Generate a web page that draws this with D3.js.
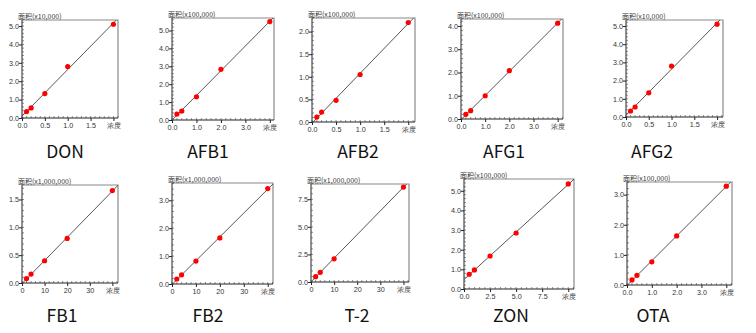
<!DOCTYPE html>
<html><head><meta charset="utf-8">
<script src="https://cdn.jsdelivr.net/npm/d3@7"></script>
<style>
body{margin:0;background:#fff;}
svg{display:block;}
</style></head>
<body>
<svg id="c" width="756" height="333"></svg>
<script>
// ---- data ----
const names = ["DON","AFB1","AFB2","AFG1","AFG2","FB1","FB2","T-2","ZON","OTA"];
const yTitles = ["面积(x10,000)","面积(x100,000)","面积(x100,000)","面积(x100,000)","面积(x10,000)",
                 "面积(x1,000,000)","面积(x1,000,000)","面积(x1,000,000)","面积(x100,000)","面积(x100,000)"];
const xLastLabel = "浓度";
const concDON  = [0.1,0.2,0.5,1.0,2.0];
const areaDON  = [0.35,0.55,1.33,2.8,5.1];
const concAFB1 = [0.2,0.4,1.0,2.0,4.0];
const areaAFB1 = [0.33,0.5,1.3,2.83,5.5];
const concAFB2 = [0.1,0.2,0.5,1.0,2.0];
const areaAFB2 = [0.11,0.22,0.48,1.05,2.2];
const concAFG1 = [0.2,0.4,1.0,2.0,4.0];
const areaAFG1 = [0.2,0.36,1.0,2.08,4.12];
const concAFG2 = [0.1,0.2,0.5,1.0,2.0];
const areaAFG2 = [0.33,0.55,1.33,2.8,5.1];
const concFB1  = [2,4,10,20,40];
const areaFB1  = [0.08,0.16,0.4,0.8,1.66];
const concFB2  = [2,4,10,20,40];
const areaFB2  = [0.18,0.33,0.82,1.65,3.42];
const concT2   = [2,4,10,40];
const areaT2   = [0.48,0.88,2.1,8.6];
const concZON  = [0.5,1.0,2.5,5.0,10.0];
const areaZON  = [0.75,0.97,1.68,2.85,5.35];
const concOTA  = [0.2,0.4,1.0,2.0,4.0];
const areaOTA  = [0.17,0.32,0.77,1.63,3.28];
const concs = [concDON,concAFB1,concAFB2,concAFG1,concAFG2,concFB1,concFB2,concT2,concZON,concOTA];
const areas = [areaDON,areaAFB1,areaAFB2,areaAFG1,areaAFG2,areaFB1,areaFB2,areaT2,areaZON,areaOTA];
// tick values (last x tick position carries the "浓度" label)
const xTicks = [[0,0.5,1,1.5,2],[0,1,2,3,4],[0,0.5,1,1.5,2],[0,1,2,3,4],[0,0.5,1,1.5,2],
                [0,10,20,30,40],[0,10,20,30,40],[0,10,20,30,40],[0,2.5,5,7.5,10],[0,1,2,3,4]];
const yTicks = [[0,1,2,3,4,5],[0,1,2,3,4,5],[0,0.5,1,1.5,2],[0,1,2,3,4],[0,1,2,3,4,5],
                [0,0.5,1,1.5],[0,1,2,3],[0,2.5,5,7.5],[0,1,2,3,4,5],[0,1,2,3]];
const xFmt = [".1f",".1f",".1f",".1f",".1f","d","d","d",".1f",".1f"];
const yFmt = [".1f",".1f",".1f",".1f",".1f",".1f",".1f",".1f",".1f",".1f"];

// ---- layout (pixel frames, axis extents, label positions) ----
const frames = [
 {l:22,t:20,r:118,b:118, xMax:2.1,  yMax:5.33, lx:65, ly:158},
 {l:172,t:18,r:274,b:120,xMax:4.17, yMax:5.7,  lx:208,ly:158},
 {l:312,t:18,r:415,b:122,xMax:2.14, yMax:2.3,  lx:358,ly:158},
 {l:461,t:19,r:563,b:119,xMax:4.22, yMax:4.3,  lx:504,ly:158},
 {l:626,t:20,r:723,b:117,xMax:2.13, yMax:5.33, lx:652,ly:158},
 {l:22,t:185,r:118,b:283,xMax:42.5, yMax:1.76, lx:62, ly:322},
 {l:172,t:183,r:273,b:284,xMax:42.2,yMax:3.62, lx:208,ly:322},
 {l:311,t:184,r:409,b:282,xMax:42.4,yMax:8.88, lx:357,ly:322},
 {l:464,t:179,r:574,b:289,xMax:10.55,yMax:5.6, lx:511,ly:322},
 {l:627,t:182,r:732,b:285,xMax:4.23,yMax:3.42, lx:653,ly:322}
];

const svg = d3.select("#c");
const tickFont = "Liberation Sans, Arial, sans-serif";

names.forEach((name,i)=>{
  const f = frames[i];
  const x = d3.scaleLinear().domain([0,f.xMax]).range([f.l,f.r]);
  const y = d3.scaleLinear().domain([0,f.yMax]).range([f.b,f.t]);
  const g = svg.append("g");

  // clip
  const cid = "clip"+i;
  svg.append("clipPath").attr("id",cid).append("rect")
     .attr("x",f.l).attr("y",f.t).attr("width",f.r-f.l).attr("height",f.b-f.t);

  // frame top/right
  g.append("path").attr("d",`M${f.l},${f.t}H${f.r}V${f.b}`)
    .attr("fill","none").attr("stroke","#8a8a8a").attr("stroke-width",1.2);

  // minor ticks
  const xt = xTicks[i], yt = yTicks[i];
  const xStep = xt[1]-xt[0], yStep = yt[1]-yt[0];
  const xMinor = d3.range(0, f.xMax+1e-9, xStep/5);
  const yMinor = d3.range(0, f.yMax+1e-9, yStep/5);

  // x axis
  const xAxis = d3.axisBottom(x).tickValues(xt).tickSizeInner(3).tickSizeOuter(0)
     .tickFormat((d,k)=> k===xt.length-1 ? xLastLabel : d3.format(xFmt[i])(d));
  const xg = g.append("g").attr("transform",`translate(0,${f.b})`).call(xAxis);
  xg.select(".domain").attr("d",`M${f.l},0H${f.r}`).attr("stroke","#222");
  xg.selectAll(".tick line").attr("stroke","#222");
  xg.selectAll("text").attr("font-family",tickFont).attr("font-size",7.2).attr("fill","#333").attr("dy","0.55em");
  g.append("g").selectAll("line").data(xMinor).join("line")
    .attr("x1",d=>x(d)).attr("x2",d=>x(d)).attr("y1",f.b).attr("y2",f.b-2)
    .attr("stroke","#444").attr("stroke-width",0.6);

  // y axis
  const yAxis = d3.axisLeft(y).tickValues(yt).tickSizeInner(3).tickSizeOuter(0)
     .tickFormat(d3.format(yFmt[i]));
  const yg = g.append("g").attr("transform",`translate(${f.l},0)`).call(yAxis);
  yg.select(".domain").attr("d",`M0,${f.b}V${f.t}`).attr("stroke","#222");
  yg.selectAll(".tick line").attr("stroke","#222");
  yg.selectAll("text").attr("font-family",tickFont).attr("font-size",7.2).attr("fill","#333").attr("x",-3);
  g.append("g").selectAll("line").data(yMinor).join("line")
    .attr("x1",f.l).attr("x2",f.l+2).attr("y1",d=>y(d)).attr("y2",d=>y(d))
    .attr("stroke","#444").attr("stroke-width",0.6);

  // y title
  g.append("text").attr("x",f.l-4).attr("y",f.t-1.5)
    .attr("font-family","Noto Sans CJK SC, sans-serif").attr("font-size",7)
    .attr("fill","#333").text(yTitles[i]);

  // regression line through points
  const xs = concs[i], ys = areas[i];
  const mx = d3.mean(xs), my = d3.mean(ys);
  const sxy = d3.sum(xs,(v,k)=>(v-mx)*(ys[k]-my));
  const sxx = d3.sum(xs,v=>(v-mx)*(v-mx));
  const slope = sxy/sxx, icpt = my - slope*mx;
  const lineData = [0, f.xMax*1.05].map(v=>[v, icpt+slope*v]);
  g.append("path").attr("clip-path",`url(#${cid})`)
    .attr("d", d3.line().x(d=>x(d[0])).y(d=>y(d[1]))(lineData))
    .attr("fill","none").attr("stroke","#444").attr("stroke-width",0.9);

  // points
  g.append("g").selectAll("circle").data(xs.map((v,k)=>[v,ys[k]])).join("circle")
    .attr("cx",d=>x(d[0])).attr("cy",d=>y(d[1])).attr("r",2.6).attr("fill","#f00");

  // panel label
  svg.append("text").attr("x",f.lx).attr("y",f.ly).attr("text-anchor","middle")
    .attr("font-family","Noto Sans CJK SC, Noto Sans, sans-serif").attr("font-size",17.5)
    .attr("fill","#111").text(name);
});
</script>
</body></html>
